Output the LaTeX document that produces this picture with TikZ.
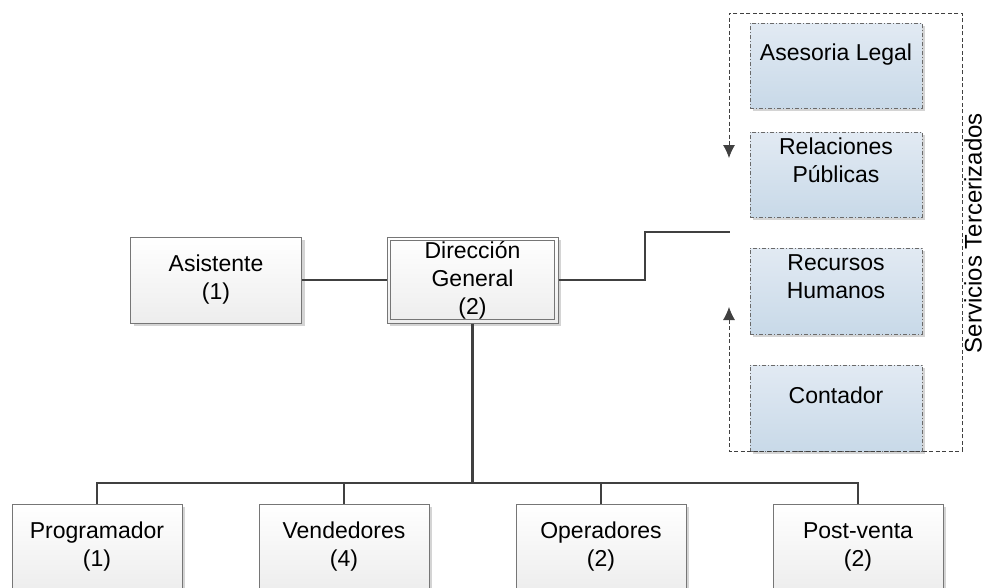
\documentclass[tikz,border=0pt]{standalone}
\usepackage{fontspec}
\setmainfont{Liberation Sans}
\usetikzlibrary{arrows.meta,shadows}

\definecolor{linegray}{HTML}{404040}
\definecolor{boxgray}{HTML}{767676}
\definecolor{dashgray}{HTML}{6A6A6A}
\definecolor{bluetop}{HTML}{E2EAF3}
\definecolor{bluebot}{HTML}{C8D9E8}
\definecolor{shadowgray}{HTML}{D4D4D4}

\newcommand{\boxfont}{\fontsize{23}{28}\selectfont}
\newcommand{\sidefont}{\fontsize{24}{28}\selectfont}

\tikzset{
  boxshadow/.style={general shadow={fill=shadowgray, shadow xshift=3pt, shadow yshift=-3pt}},
  graybox/.style={draw=boxgray, line width=1pt, top color=white, bottom color=black!7,
    boxshadow, minimum width=171pt, minimum height=86pt, inner sep=0pt,
    align=center, font=\boxfont},
  bluebox/.style={draw=dashgray, line width=0.8pt,
    dash pattern=on 4pt off 2pt on 1pt off 2pt,
    top color=bluetop, bottom color=bluebot,
    boxshadow, minimum width=172pt, minimum height=86pt, inner sep=0pt},
  boxtext/.style={align=center, font=\boxfont, inner sep=0pt},
  conn/.style={draw=linegray, line width=2.5pt},
  svcframe/.style={draw=dashgray, line width=0.8pt, dash pattern=on 4pt off 2.5pt,
    {Latex[length=13pt,width=12pt]}-{Latex[length=13pt,width=12pt]}, linegray},
}

\begin{document}
\begin{tikzpicture}[x=1pt,y=-1pt]
\useasboundingbox (0,0) rectangle (987,587);

% management row
\node[graybox] (as) at (216,280) {Asistente\\(1)};
\node[graybox] (dg) at (472.5,280) {Dirección\\General\\(2)};
\draw[draw=boxgray, line width=1pt]
  ([shift={(4pt,-4pt)}]dg.north west) rectangle ([shift={(-4pt,4pt)}]dg.south east);

% staff row
\node[graybox, minimum width=170pt] (prog) at (97,547)  {Programador\\(1)};
\node[graybox, minimum width=170pt] (vend) at (344,547) {Vendedores\\(4)};
\node[graybox, minimum width=170pt] (oper) at (601,547) {Operadores\\(2)};
\node[graybox, minimum width=170pt] (post) at (858,547) {Post-venta\\(2)};

% outsourced services
\node[bluebox, minimum height=85pt] (al) at (836,65.5) {};
\node[boxtext] (alt) at ([yshift=11pt]al.center) {Asesoria Legal};
\node[bluebox, minimum height=85pt] (rp) at (836,174.5) {};
\node[boxtext] (rpt) at ([yshift=14pt]rp.center) {Relaciones\\Públicas};
\node[bluebox] (rh) at (836,291) {};
\node[boxtext] (rht) at ([yshift=14pt]rh.center) {Recursos\\Humanos};
\node[bluebox] (ct) at (836,408) {};
\node[boxtext] (ctt) at ([yshift=13pt]ct.center) {Contador};

% frame around the services
\coordinate (svcNW) at (729,13);
\coordinate (svcSE) at (962,451);
\coordinate (svcHigh) at (729,158);
\coordinate (svcLow) at (729,307);
\draw[svcframe] (svcLow) -- (svcLow |- svcSE) -- (svcSE) -- (svcSE |- svcNW)
  -- (svcNW) -- (svcHigh);
\node[rotate=90, anchor=base, font=\sidefont, inner sep=0pt] (svclab) at (981.5,233)
  {Servicios Tercerizados};

% connectors
\coordinate (jog) at (645,232);
\coordinate (inlet) at (730,232);
\coordinate (bus) at (472.5,483);
\draw[conn] (as.east) -- (dg.west);
\draw[conn] (dg.east) -| (jog) -- (inlet);
\draw[conn] (dg.south) -- (bus);
\draw[conn] (prog.north) |- (bus) -| (post.north);
\draw[conn] (vend.north) -- (vend.north |- bus);
\draw[conn] (oper.north) -- (oper.north |- bus);
\end{tikzpicture}
\end{document}
